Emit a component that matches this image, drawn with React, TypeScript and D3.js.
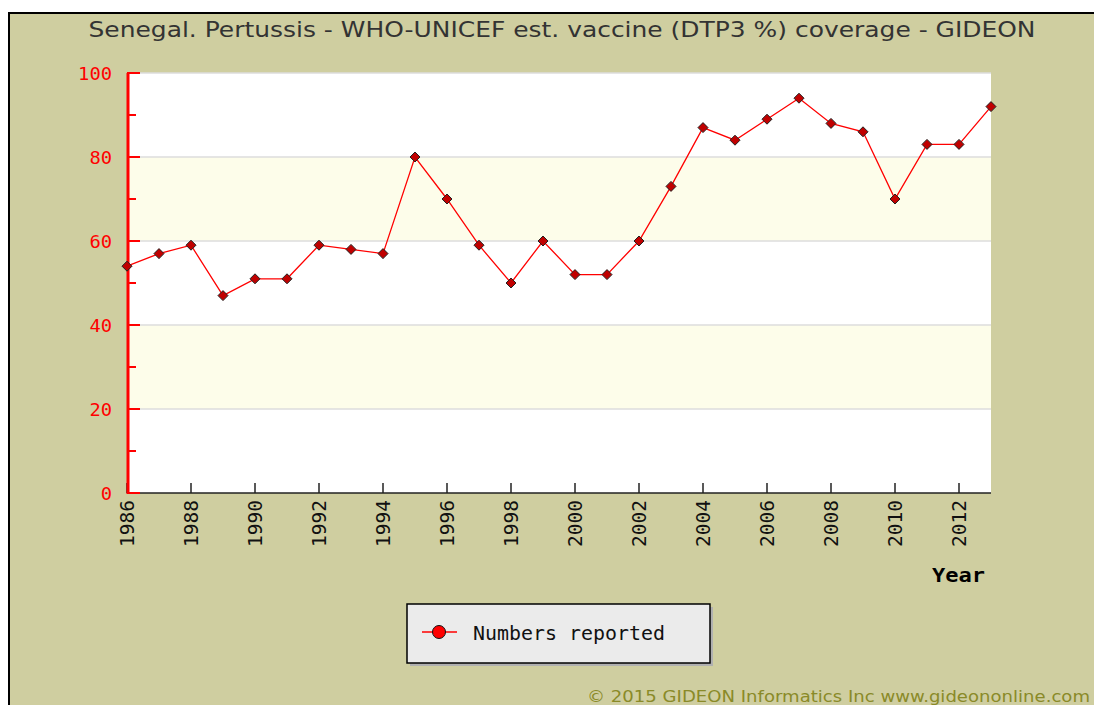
import React from 'react';
import * as d3 from 'd3';

const years = [1986, 1987, 1988, 1989, 1990, 1991, 1992, 1993, 1994, 1995, 1996, 1997, 1998, 1999,
  2000, 2001, 2002, 2003, 2004, 2005, 2006, 2007, 2008, 2009, 2010, 2011, 2012, 2013];
const coverage = [54, 57, 59, 47, 51, 51, 59, 58, 57, 80, 70, 59, 50, 60,
  52, 52, 60, 73, 87, 84, 89, 94, 88, 86, 70, 83, 83, 92];
const yTicks = [0, 20, 40, 60, 80, 100];
const yMinor = [10, 30, 50, 70, 90];
const xTicks = [1986, 1988, 1990, 1992, 1994, 1996, 1998, 2000, 2002, 2004, 2006, 2008, 2010, 2012];
const bands = [[20, 40], [60, 80]];

const title = 'Senegal. Pertussis - WHO-UNICEF est. vaccine (DTP3 %) coverage - GIDEON';
const seriesName = 'Numbers reported';
const credit = '\u00a9 2015 GIDEON Informatics Inc www.gideononline.com';

const W = 1094;
const H = 705;
const plot = { left: 127, right: 991, top: 73, bottom: 493 };
const mono = '"DejaVu Sans Mono", monospace';

const App = () => {
  const x = d3.scaleLinear().domain([1986, 2013]).range([plot.left, plot.right]);
  const y = d3.scaleLinear().domain([0, 100]).range([plot.bottom, plot.top]);

  const data = years.map((yr, i) => ({ yr, v: coverage[i] }));
  const line = d3.line<{ yr: number; v: number }>().x(d => x(d.yr)).y(d => y(d.v));

  const diamond = (cx: number, cy: number, r: number) =>
    `M${cx},${cy - r}L${cx + r},${cy}L${cx},${cy + r}L${cx - r},${cy}Z`;

  return (
    <svg width={W} height={H} style={{ position: 'absolute', left: 0, top: 0 }}>
      <rect x={0} y={0} width={W} height={H} fill="#fff" />
      <rect x={9} y={13} width={1200} height={800} fill="#cfcea0" stroke="#000" strokeWidth={2} />

      <text x={562} y={37} textAnchor="middle" fontFamily='"DejaVu Sans", sans-serif' fontSize={21}
        fill="#333" textLength={947} lengthAdjust="spacingAndGlyphs">{title}</text>

      {/* plot background + bands */}
      <rect x={plot.left} y={plot.top} width={plot.right - plot.left} height={plot.bottom - plot.top} fill="#fff" />
      {bands.map(([a, b]) => (
        <rect key={a} x={plot.left} y={y(b)} width={plot.right - plot.left} height={y(a) - y(b)} fill="#fdfdea" />
      ))}
      {yTicks.filter(t => t > 0).map(t => (
        <line key={t} x1={plot.left} x2={plot.right} y1={y(t)} y2={y(t)} stroke="#dcdcdc" strokeWidth={1.5} />
      ))}

      {/* x axis */}
      <line x1={plot.left} x2={plot.right} y1={plot.bottom} y2={plot.bottom} stroke="#222" strokeWidth={1.5} />
      {xTicks.map(t => (
        <g key={t}>
          <line x1={x(t)} x2={x(t)} y1={plot.bottom} y2={plot.bottom - 10} stroke="#222" strokeWidth={1.5} />
          <text transform={`translate(${x(t) + 7},${plot.bottom + 7}) rotate(-90)`} textAnchor="end"
            fontFamily={mono} fontSize={19} fill="#111" textLength={47} lengthAdjust="spacingAndGlyphs">{t}</text>
        </g>
      ))}
      <text x={985} y={582} textAnchor="end" fontFamily={mono} fontWeight="bold" fontSize={20} fill="#000"
        textLength={53} lengthAdjust="spacingAndGlyphs">Year</text>

      {/* y axis */}
      <line x1={plot.left + 1} x2={plot.left + 1} y1={plot.top} y2={plot.bottom + 1} stroke="#f00" strokeWidth={3} />
      {yTicks.map(t => (
        <g key={t}>
          <line x1={plot.left} x2={plot.left + 13} y1={y(t)} y2={y(t)} stroke="#f00" strokeWidth={2} />
          <text x={112} y={y(t) + 7} textAnchor="end" fontFamily={mono} fontSize={18} fill="#f00"
            textLength={String(t).length * 11.3} lengthAdjust="spacingAndGlyphs">{t}</text>
        </g>
      ))}
      {yMinor.map(t => (
        <line key={t} x1={plot.left} x2={plot.left + 9} y1={y(t)} y2={y(t)} stroke="#f00" strokeWidth={2} />
      ))}

      {/* series */}
      <path d={line(data) ?? ''} fill="none" stroke="#f00" strokeWidth={1.3} />
      {data.map(d => (
        <path key={d.yr} d={diamond(x(d.yr), y(d.v), 5)} fill="#c00000" stroke="#222" strokeWidth={1} />
      ))}

      {/* legend */}
      <rect x={410} y={607} width={303} height={59} fill="#b0b0b0" />
      <rect x={407} y={604} width={303} height={59} fill="#ebebeb" stroke="#000" strokeWidth={1.5} />
      <line x1={422} x2={457} y1={632} y2={632} stroke="#f00" strokeWidth={1.5} />
      <circle cx={439} cy={632} r={6.5} fill="#f00" stroke="#111" strokeWidth={1} />
      <text x={473} y={640} fontFamily={mono} fontSize={19} fill="#111" textLength={192}
        lengthAdjust="spacingAndGlyphs">{seriesName}</text>

      <text x={587} y={702} fontFamily='"DejaVu Sans", sans-serif' fontSize={15} fill="#8a8a28"
        textLength={503} lengthAdjust="spacingAndGlyphs">{credit}</text>
    </svg>
  );
};

export default App;
